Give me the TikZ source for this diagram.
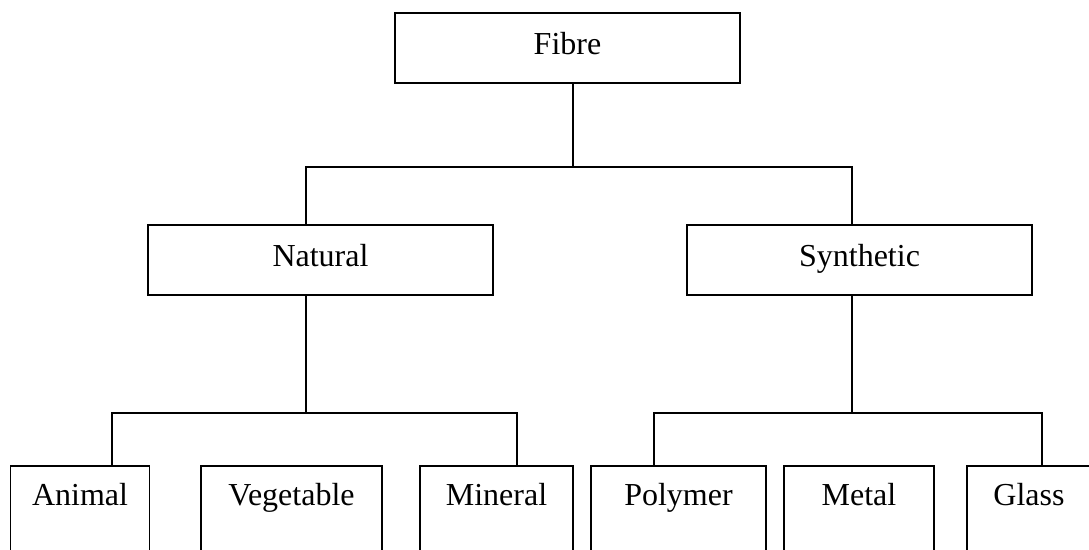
\documentclass[tikz,border=0pt]{standalone}
\usepackage{fontspec}
\setmainfont{Liberation Serif}
\begin{document}
\begin{tikzpicture}[x=1pt,y=-1pt,
  line width=1.5pt,
  midbox/.style={draw, minimum width=345pt, minimum height=70pt, inner sep=0pt,
    text height=22pt, text depth=10pt, font=\fontsize{32}{38}\selectfont},
  leafbox/.style={draw, anchor=north, inner sep=0pt, text height=40pt, text depth=64pt,
    font=\fontsize{32}{38}\selectfont},
  conn/.style={line width=1.5pt}]
\useasboundingbox (0,0) rectangle (1089,549);
\clip (0,0) rectangle (1089,549);
\fill[white] (0,0) rectangle (1089,549);
% top and middle boxes
\node[midbox] (fibre) at (567.5,48) {Fibre};
\node[midbox] (natural) at (320.5,260) {Natural};
\node[midbox] (synthetic) at (859.5,260) {Synthetic};
% leaves
\node[leafbox, minimum width=139pt] (animal) at (80,465) {Animal};
\node[leafbox, minimum width=181pt] (vegetable) at (291.5,465) {Vegetable};
\node[leafbox, minimum width=153pt] (mineral) at (496.5,465) {Mineral};
\node[leafbox, minimum width=175pt] (polymer) at (678.5,465) {Polymer};
\node[leafbox, minimum width=150pt] (metal) at (859,465) {Metal};
\node[leafbox, minimum width=140pt] (glass) at (1037,465) {Glass\hspace*{16pt}};
% junction coordinates
\coordinate (jt) at (573,167);
\coordinate (jn) at (306,413);
\coordinate (js) at (852,413);
\coordinate (la) at (112,413);
\coordinate (lm) at (517,413);
\coordinate (lp) at (654,413);
\coordinate (lg) at (1042,413);
% connectors
\draw[conn] (fibre.south -| jt) -- (jt);
\draw[conn] (natural.north -| jn) |- (jt) -| (synthetic.north -| js);
\draw[conn] (natural.south -| jn) -- (jn);
\draw[conn] (synthetic.south -| js) -- (js);
\draw[conn] (animal.north -| la) -- (la) -- (lm) -- (mineral.north -| lm);
\draw[conn] (polymer.north -| lp) -- (lp) -- (lg) -- (glass.north -| lg);
\end{tikzpicture}
\end{document}
